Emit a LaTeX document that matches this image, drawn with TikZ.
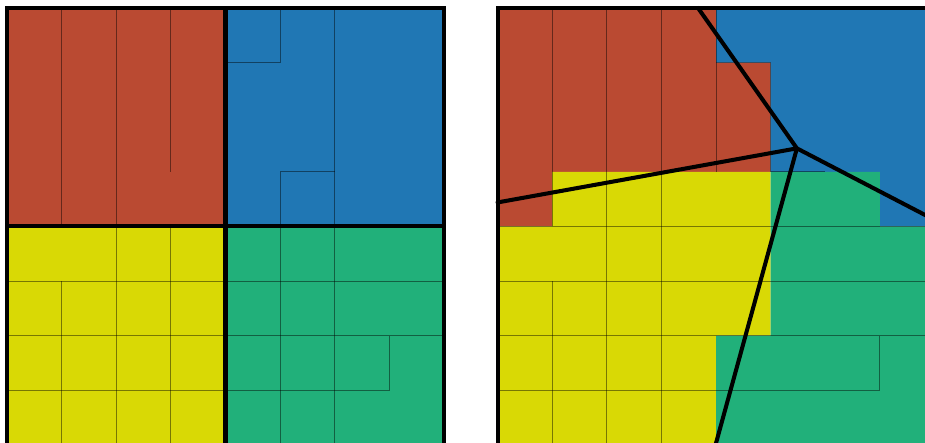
\documentclass[tikz,border=0pt]{standalone}
\usepackage{tikz}

\definecolor{redpart}{RGB}{186,74,50}
\definecolor{bluepart}{RGB}{32,119,180}
\definecolor{yellowpart}{RGB}{217,217,5}
\definecolor{greenpart}{RGB}{33,176,122}

\begin{document}
\begin{tikzpicture}[x=1cm, y=1cm,
  cellline/.style={black, opacity=0.45, line width=0.5pt},
  boxline/.style={black, line width=2.1pt, line join=miter},
  cutline/.style={black, line width=2.1pt, line cap=round, line join=round}]

  % fixed frame of the picture, right panel runs past it
  \useasboundingbox (-0.128,0.037) rectangle (16.805,8.146);
  \clip (-0.128,0.037) rectangle (16.805,8.146);

  % ---- left panel: four quadrants ----
  \fill[redpart]    (0,4) rectangle (4,8);
  \fill[bluepart]   (4,4) rectangle (8,8);
  \fill[yellowpart] (0,0) rectangle (4,4);
  \fill[greenpart]  (4,0) rectangle (8,4);

  % cell boundaries inside the quadrants
  \draw[cellline] (1,4) -- (1,8);  \draw[cellline] (2,4) -- (2,8);
  \draw[cellline] (3,5) -- (3,8);
  \draw[cellline] (5,8) -- (5,7) -- (4,7);
  \draw[cellline] (6,4) -- (6,8);
  \draw[cellline] (5,4) -- (5,5) -- (6,5);
  \draw[cellline] (0,3) -- (4,3);  \draw[cellline] (0,2) -- (4,2);
  \draw[cellline] (0,1) -- (4,1);
  \draw[cellline] (1,0) -- (1,3);
  \draw[cellline] (2,0) -- (2,4);  \draw[cellline] (3,0) -- (3,4);
  \draw[cellline] (5,0) -- (5,4);  \draw[cellline] (6,0) -- (6,4);
  \draw[cellline] (4,3) -- (8,3);  \draw[cellline] (4,2) -- (8,2);
  \draw[cellline] (4,1) -- (7,1) -- (7,2);

  % quadrant borders
  \draw[boxline] (4,0) -- (4,8);
  \draw[boxline] (0,4) -- (8,4);
  \draw[boxline] (0,0) rectangle (8,8);

  % ---- right panel ----
  \begin{scope}[shift={(8.98,0)}]
    \fill[redpart] (0,4) -- (1,4) -- (1,5) -- (5,5) -- (5,7) -- (4,7)
      -- (4,8) -- (0,8) -- cycle;
    \fill[bluepart] (4,8) -- (8,8) -- (8,4) -- (7,4) -- (7,5) -- (5,5)
      -- (5,7) -- (4,7) -- cycle;
    \fill[yellowpart] (0,0) -- (4,0) -- (4,2) -- (5,2) -- (5,5) -- (1,5)
      -- (1,4) -- (0,4) -- cycle;
    \fill[greenpart] (4,0) -- (8,0) -- (8,4) -- (7,4) -- (7,5) -- (5,5)
      -- (5,2) -- (4,2) -- cycle;

    % cell boundaries
    \draw[cellline] (1,4) -- (1,8);  \draw[cellline] (1,0) -- (1,3);
    \draw[cellline] (2,0) -- (2,8);  \draw[cellline] (3,0) -- (3,8);
    \draw[cellline] (4,5) -- (4,8);
    \draw[cellline] (4,7) -- (5,7);
    \draw[cellline] (5,5) -- (5,7);
    \draw[cellline] (5,5) -- (6,5);
    \draw[cellline] (0,4) -- (8,4);  \draw[cellline] (0,3) -- (8,3);
    \draw[cellline] (0,2) -- (8,2);
    \draw[cellline] (0,1) -- (7,1) -- (7,2);

    % partition cuts from the common point
    \coordinate (hub) at (5.48,5.43);
    \coordinate (cuttop) at (3.67,8);
    \coordinate (cutleft) at (0,4.44);
    \coordinate (cutright) at (8,4.12);
    \coordinate (cutbottom) at (3.99,0);
    \draw[cutline] (cuttop) -- (hub) -- (cutright);
    \draw[cutline] (cutleft) -- (hub) -- (cutbottom);

    \draw[boxline] (0,0) rectangle (8,8);
  \end{scope}
\end{tikzpicture}
\end{document}
